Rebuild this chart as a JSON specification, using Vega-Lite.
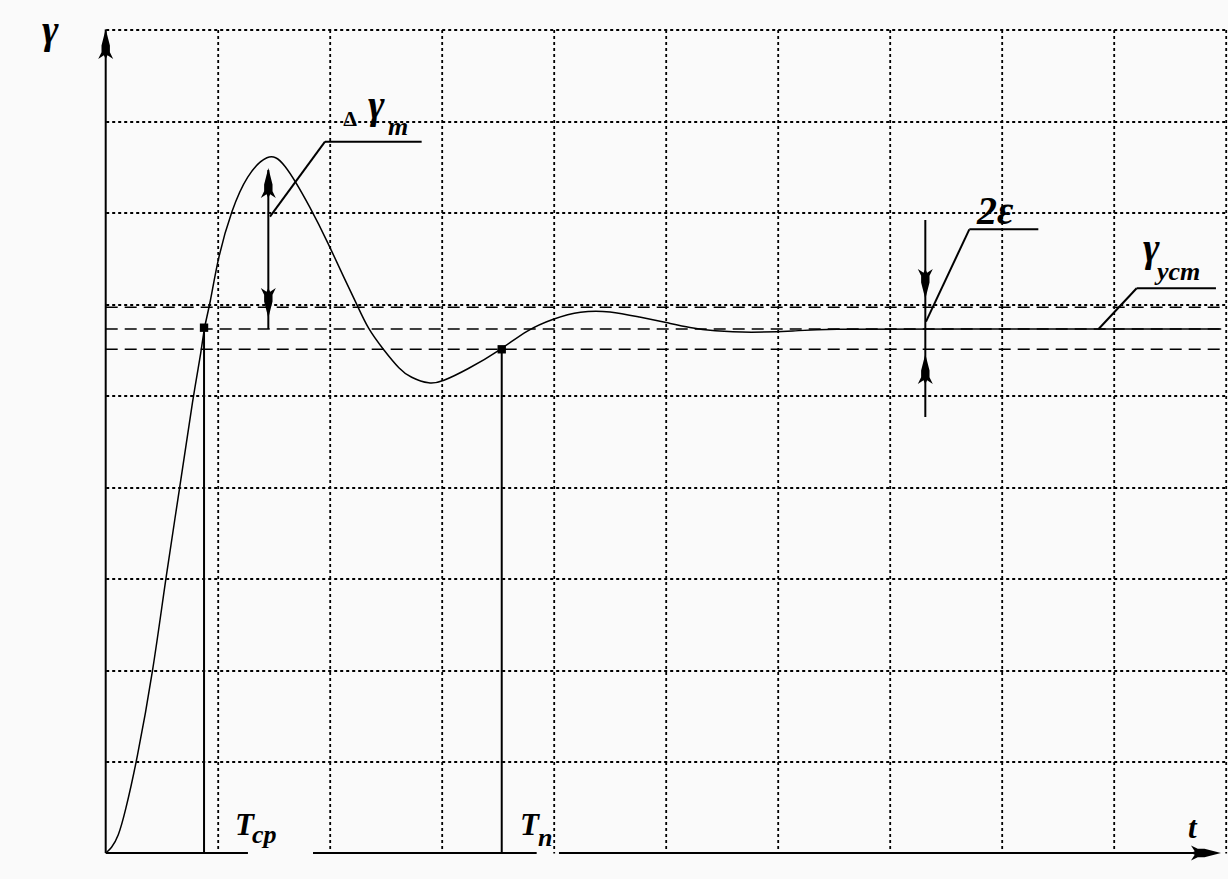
{
  "$schema": "https://vega.github.io/schema/vega-lite/v6.json",
  "width": 1120,
  "height": 823.5,
  "autosize": "none",
  "padding": {"left": 105.7, "top": 29.5, "right": 2.3, "bottom": 26},
  "background": "#fafafa",
  "config": {"view": {"stroke": null}},
  "datasets": {
    "curve": [
      {"x": 0, "y": 0}, {"x": 0.05, "y": 0.05}, {"x": 0.113, "y": 0.178}, {"x": 0.172, "y": 0.437},
      {"x": 0.277, "y": 0.998}, {"x": 0.425, "y": 2.0}, {"x": 0.536, "y": 3.009}, {"x": 0.663, "y": 4.003},
      {"x": 0.782, "y": 5.005}, {"x": 0.857, "y": 5.505}, {"x": 0.878, "y": 5.741}, {"x": 0.931, "y": 5.989},
      {"x": 1.003, "y": 6.517}, {"x": 1.125, "y": 7.03}, {"x": 1.259, "y": 7.41}, {"x": 1.449, "y": 7.65},
      {"x": 1.583, "y": 7.58}, {"x": 1.839, "y": 7.03}, {"x": 1.985, "y": 6.667}, {"x": 2.137, "y": 6.262},
      {"x": 2.241, "y": 6.0}, {"x": 2.342, "y": 5.727}, {"x": 2.476, "y": 5.508}, {"x": 2.628, "y": 5.279},
      {"x": 2.717, "y": 5.2}, {"x": 2.896, "y": 5.12}, {"x": 3.0, "y": 5.15}, {"x": 3.223, "y": 5.279},
      {"x": 3.536, "y": 5.505}, {"x": 3.759, "y": 5.716}, {"x": 3.996, "y": 5.84}, {"x": 4.235, "y": 5.925},
      {"x": 4.503, "y": 5.925}, {"x": 4.771, "y": 5.855}, {"x": 5.009, "y": 5.796}, {"x": 5.217, "y": 5.741},
      {"x": 5.423, "y": 5.705}, {"x": 5.753, "y": 5.686}, {"x": 6.17, "y": 5.705}, {"x": 6.378, "y": 5.727},
      {"x": 7.5, "y": 5.727}, {"x": 9.96, "y": 5.727}
    ],
    "solid": [
      {"x": 0, "y": 0, "x2": 0, "y2": 9},
      {"x": 0, "y": 0, "x2": 1.27, "y2": 0},
      {"x": 1.851, "y": 0, "x2": 3.848, "y2": 0},
      {"x": 4.047, "y": 0, "x2": 9.9, "y2": 0},
      {"x": 0.878, "y": 0, "x2": 0.878, "y2": 5.741},
      {"x": 3.536, "y": 0, "x2": 3.536, "y2": 5.505},
      {"x": 1.452, "y": 7.464, "x2": 1.452, "y2": 5.727},
      {"x": 1.467, "y": 6.954, "x2": 1.958, "y2": 7.774},
      {"x": 1.958, "y": 7.774, "x2": 2.821, "y2": 7.774},
      {"x": 7.318, "y": 6.918, "x2": 7.318, "y2": 4.765},
      {"x": 7.324, "y": 5.807, "x2": 7.711, "y2": 6.816},
      {"x": 7.711, "y": 6.816, "x2": 8.327, "y2": 6.816},
      {"x": 8.863, "y": 5.724, "x2": 9.205, "y2": 6.172},
      {"x": 9.205, "y": 6.172, "x2": 9.913, "y2": 6.172}
    ],
    "dashed": [
      {"x": 0, "y": 5.964, "x2": 10, "y2": 5.964},
      {"x": 0, "y": 5.727, "x2": 10, "y2": 5.727},
      {"x": 0, "y": 5.505, "x2": 10, "y2": 5.505}
    ],
    "arrows": [
      {"x": 0, "y": 8.842, "dir": "up"},
      {"x": 9.824, "y": 0, "dir": "right"},
      {"x": 1.452, "y": 7.322, "dir": "up"},
      {"x": 1.452, "y": 6.011, "dir": "down"},
      {"x": 7.318, "y": 6.219, "dir": "down"},
      {"x": 7.318, "y": 5.29, "dir": "up"}
    ],
    "marks": [
      {"x": 0.878, "y": 5.741},
      {"x": 3.536, "y": 5.505}
    ],
    "big": [
      {"x": -0.569, "y": 8.852, "text": "γ"},
      {"x": 2.342, "y": 8.033, "text": "γ"},
      {"x": 9.262, "y": 6.47, "text": "γ"}
    ],
    "caps": [
      {"x": 1.154, "y": 0.197, "text": "T"},
      {"x": 3.699, "y": 0.197, "text": "T"},
      {"x": 9.663, "y": 0.164, "text": "t"}
    ],
    "subs": [
      {"x": 2.521, "y": 7.847, "text": "m"},
      {"x": 1.306, "y": 0.109, "text": "cp"},
      {"x": 3.86, "y": 0.08, "text": "n"},
      {"x": 9.387, "y": 6.262, "text": "ycm"}
    ],
    "delta": [
      {"x": 2.12, "y": 7.945, "text": "Δ"}
    ],
    "eps": [
      {"x": 7.779, "y": 6.874, "text": "2ε"}
    ]
  },
  "layer": [
    {
      "data": {"name": "dashed"},
      "mark": {"type": "rule", "color": "black", "strokeWidth": 1.6, "strokeDash": [12, 7]},
      "encoding": {
        "x": {"field": "x", "type": "quantitative", "scale": {"domain": [0, 10]},
          "axis": {"values": [1,2,3,4,5,6,7,8,9,10], "grid": true, "gridColor": "black", "gridOpacity": 1, "gridWidth": 1.8, "gridDash": [3, 3], "labels": false, "ticks": false, "domain": false, "title": null}},
        "y": {"field": "y", "type": "quantitative", "scale": {"domain": [0, 9]},
          "axis": {"values": [1,2,3,4,5,6,7,8,9], "grid": true, "gridColor": "black", "gridOpacity": 1, "gridWidth": 1.8, "gridDash": [3, 3], "labels": false, "ticks": false, "domain": false, "title": null}},
        "x2": {"field": "x2"},
        "y2": {"field": "y2"}
      }
    },
    {
      "data": {"name": "solid"},
      "mark": {"type": "rule", "color": "black", "strokeWidth": 2},
      "encoding": {
        "x": {"field": "x", "type": "quantitative"},
        "y": {"field": "y", "type": "quantitative"},
        "x2": {"field": "x2"},
        "y2": {"field": "y2"}
      }
    },
    {
      "data": {"name": "curve"},
      "mark": {"type": "line", "color": "black", "strokeWidth": 1.5, "interpolate": "basis"},
      "encoding": {
        "x": {"field": "x", "type": "quantitative"},
        "y": {"field": "y", "type": "quantitative"}
      }
    },
    {
      "data": {"name": "arrows"},
      "transform": [{"filter": "datum.dir === 'up'"}],
      "mark": {"type": "point", "filled": true, "color": "black", "opacity": 1, "size": 900, "angle": 0,
        "shape": "M0,-1L0.28,0.1L0.28,0.55L0.5,1L0.12,0.75L0,1L-0.12,0.75L-0.5,1L-0.28,0.55L-0.28,0.1Z"},
      "encoding": {
        "x": {"field": "x", "type": "quantitative"},
        "y": {"field": "y", "type": "quantitative"}
      }
    },
    {
      "data": {"name": "arrows"},
      "transform": [{"filter": "datum.dir === 'down'"}],
      "mark": {"type": "point", "filled": true, "color": "black", "opacity": 1, "size": 900, "angle": 180,
        "shape": "M0,-1L0.28,0.1L0.28,0.55L0.5,1L0.12,0.75L0,1L-0.12,0.75L-0.5,1L-0.28,0.55L-0.28,0.1Z"},
      "encoding": {
        "x": {"field": "x", "type": "quantitative"},
        "y": {"field": "y", "type": "quantitative"}
      }
    },
    {
      "data": {"name": "arrows"},
      "transform": [{"filter": "datum.dir === 'right'"}],
      "mark": {"type": "point", "filled": true, "color": "black", "opacity": 1, "size": 900, "angle": 90,
        "shape": "M0,-1L0.28,0.1L0.28,0.55L0.5,1L0.12,0.75L0,1L-0.12,0.75L-0.5,1L-0.28,0.55L-0.28,0.1Z"},
      "encoding": {
        "x": {"field": "x", "type": "quantitative"},
        "y": {"field": "y", "type": "quantitative"}
      }
    },
    {
      "data": {"name": "marks"},
      "mark": {"type": "point", "shape": "square", "filled": true, "color": "black", "opacity": 1, "size": 70},
      "encoding": {
        "x": {"field": "x", "type": "quantitative"},
        "y": {"field": "y", "type": "quantitative"}
      }
    },
    {
      "data": {"name": "big"},
      "mark": {"type": "text", "font": "Liberation Serif", "fontStyle": "italic", "fontWeight": "bold", "fontSize": 40, "align": "left", "baseline": "alphabetic", "color": "black"},
      "encoding": {
        "x": {"field": "x", "type": "quantitative"},
        "y": {"field": "y", "type": "quantitative"},
        "text": {"field": "text"}
      }
    },
    {
      "data": {"name": "caps"},
      "mark": {"type": "text", "font": "Liberation Serif", "fontStyle": "italic", "fontWeight": "bold", "fontSize": 31, "align": "left", "baseline": "alphabetic", "color": "black"},
      "encoding": {
        "x": {"field": "x", "type": "quantitative"},
        "y": {"field": "y", "type": "quantitative"},
        "text": {"field": "text"}
      }
    },
    {
      "data": {"name": "subs"},
      "mark": {"type": "text", "font": "Liberation Serif", "fontStyle": "italic", "fontWeight": "bold", "fontSize": 26, "align": "left", "baseline": "alphabetic", "color": "black"},
      "encoding": {
        "x": {"field": "x", "type": "quantitative"},
        "y": {"field": "y", "type": "quantitative"},
        "text": {"field": "text"}
      }
    },
    {
      "data": {"name": "delta"},
      "mark": {"type": "text", "font": "Liberation Serif", "fontWeight": "bold", "fontSize": 22, "align": "left", "baseline": "alphabetic", "color": "black"},
      "encoding": {
        "x": {"field": "x", "type": "quantitative"},
        "y": {"field": "y", "type": "quantitative"},
        "text": {"field": "text"}
      }
    },
    {
      "data": {"name": "eps"},
      "mark": {"type": "text", "font": "Liberation Serif", "fontStyle": "italic", "fontWeight": "bold", "fontSize": 40, "align": "left", "baseline": "alphabetic", "color": "black"},
      "encoding": {
        "x": {"field": "x", "type": "quantitative"},
        "y": {"field": "y", "type": "quantitative"},
        "text": {"field": "text"}
      }
    }
  ]
}
